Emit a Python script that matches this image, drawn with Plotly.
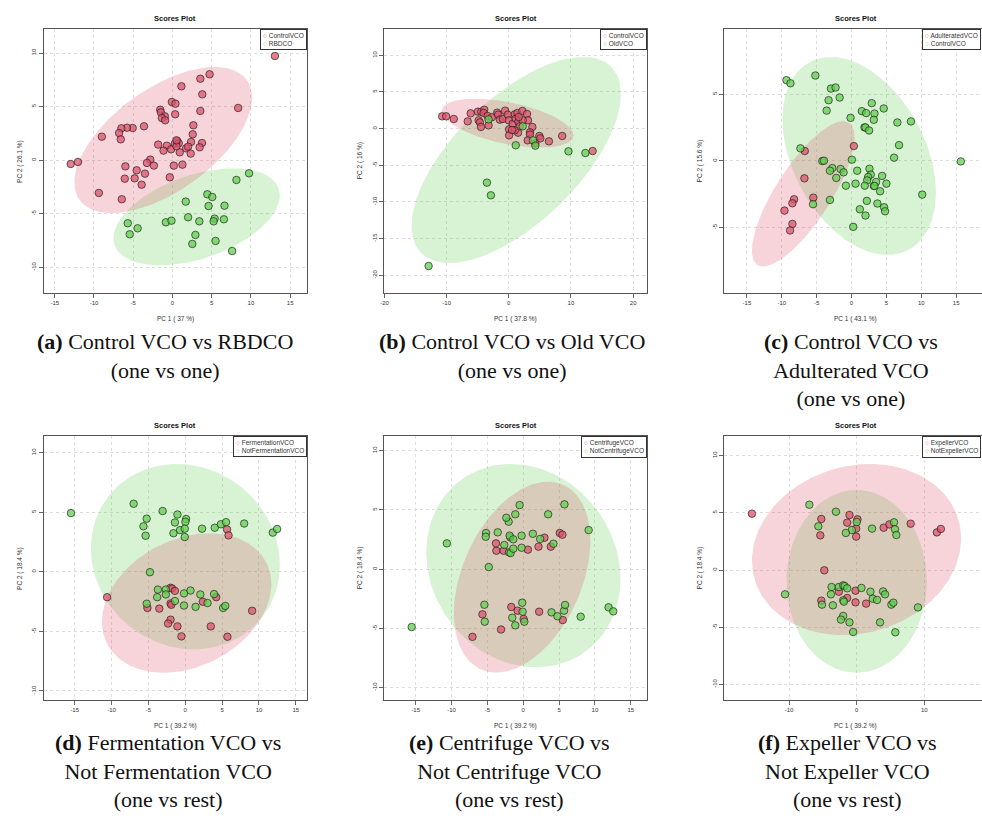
import numpy as np
import plotly.graph_objects as go

W, H = 982, 816

# ---------------- data ----------------
# (a) Control VCO vs RBDCO
a_control_pc1 = [13.05, 4.73, 3.55, 1.14, 3.8, 8.37, -0.08, 0.38, 3.55, -1.56, -1.48, -0.97, -1.35, -0.93, 0.34,
                 2.66, -3.63, -5.07, -5.79, -6.51, -6.8, -9.0, -6.59, 2.58, 2.37, 3.76, 3.46, -1.82, -0.72, -1.14,
                 -0.17, 0.3, 0.63, 0.8, 0.51, 0.93, 1.73, 1.99, 2.32, 0.51, -2.83, -3.25, -2.37, 0.17, 1.27, -6.0,
                 -12.04, -12.97, -4.56, -3.51, -4.82, -6.08, -3.93, -0.34, -9.38, -6.46]
a_control_pc2 = [9.72, 8.01, 7.6, 6.89, 6.14, 4.87, 5.43, 5.27, 4.59, 4.71, 4.46, 4.09, 3.93, 3.72, 4.28, 3.25,
                 3.16, 3.0, 3.03, 2.97, 2.53, 2.19, 1.94, 2.41, 1.70, 1.6, 1.2, 1.45, 1.35, 0.89, 1.01, 1.54, 1.76,
                 1.57, 1.29, 0.73, 1.1, 1.26, 0.61, 1.85, 0.05, -0.26, -0.51, -0.51, -0.42, -0.58, -0.17, -0.36,
                 -0.95, -1.26, -1.7, -1.73, -2.29, -1.6, -3.06, -3.65]
a_rbdco_pc1 = [9.76, 8.15, 4.44, 5.07, 1.69, 4.6, 6.63, 1.99, 3.42, 5.37, 5.24, 6.55, -0.84, -0.13, -5.7, -4.44,
               -5.45, 2.92, 5.49, 2.53, 7.6]
a_rbdco_pc2 = [-1.23, -1.85, -3.19, -3.44, -3.87, -4.28, -4.25, -5.33, -5.71, -5.46, -5.71, -5.52, -5.8, -5.65,
               -5.89, -6.36, -6.92, -6.98, -7.54, -7.82, -8.48]

# (b) Control VCO vs Old VCO
b_control_pc1 = [-10.72, -10.08, -8.85, -6.61, -6.13, -4.96, -4.43, -3.95, -4.05, -4.85, -4.64, -4.48, -3.25,
                 -3.41, -2.72, -1.87, -1.71, -1.44, -0.96, -0.59, -0.16, 0.0, 0.05, 0.05, 0.64, 0.96, 1.12, 1.39,
                 1.55, 1.49, 1.76, 2.19, 2.93, 3.09, 3.79, 3.41, 3.41, 3.04, 4.91, 5.07, 4.27, 6.45, 8.59, 13.49,
                 0.96, 2.24, 0.53, 1.6]
b_control_pc2 = [1.68, 1.68, 1.32, 1.0, 2.09, 2.32, 2.32, 2.59, 2.14, 1.14, 0.86, 0.23, 0.45, 1.73, 1.55, 2.18,
                 1.91, 1.23, 1.32, 2.45, 1.91, 1.14, -0.09, -0.91, 0.68, 1.95, 1.36, 2.14, 0.95, -0.55, 0.32, 2.41,
                 2.0, 1.14, 0.23, -0.5, -0.82, -1.59, -1.0, -1.32, -2.0, -1.73, -1.0, -3.05, -0.23, 1.14, -0.18, 1.59]
b_old_pc1 = [-3.25, 2.24, 1.12, 3.89, 4.27, 9.6, 12.32, -3.52, -2.88, -12.9]
b_old_pc2 = [1.27, 0.32, -2.27, -1.59, -2.32, -3.09, -3.32, -7.36, -9.09, -18.73]

# (c) Control VCO vs Adulterated VCO
c_adult_pc1 = [0.33, -6.71, -6.76, -8.24, -8.48, -9.62, -5.48, -8.48, -8.81]
c_adult_pc2 = [1.11, 0.74, -1.31, -2.88, -3.18, -3.73, -2.76, -4.73, -5.22]
c_control_pc1 = [-9.33, -8.76, -5.19, -2.95, -2.29, -1.71, -3.29, -3.57, -0.14, 1.48, 2.1, 2.9, 3.29, 3.19, 4.62,
                 1.86, 2.0, 2.52, 6.57, 8.52, 6.81, 6.1, 15.67, -7.33, -4.19, -3.95, 0.05, -2.76, -3.1, -1.57,
                 -1.14, -2.19, -0.81, 0.57, 0.81, 2.57, 2.76, 2.38, 2.24, 1.9, 3.19, 3.52, 4.38, 5.0, 4.1, 3.29,
                 -3.1, -5.52, 2.19, 3.71, 1.19, 2.0, 4.67, 4.81, 0.24, 10.14]
c_control_pc2 = [6.05, 5.82, 6.4, 5.42, 5.5, 4.75, 4.55, 3.77, 3.23, 3.73, 3.58, 4.33, 3.55, 3.08, 3.93, 2.51,
                 2.51, 2.28, 2.88, 2.96, 1.18, 0.24, -0.04, 0.94, -0.01, 0.01, 0.09, -0.54, -0.74, -0.61, -0.86,
                 -1.28, -1.86, -1.71, -0.74, -0.59, -1.03, -1.21, -1.46, -1.86, -1.88, -1.58, -1.13, -1.71, -2.28,
                 -1.88, -2.93, -3.25, -3.0, -3.2, -3.63, -4.1, -3.48, -3.78, -4.95, -2.53]

# (d)-(f): one-vs-rest, same samples; production method of each sample
method = ["Expeller", "Centrifuge", "Centrifuge", "Expeller", "Centrifuge", "Expeller", "Expeller", "Expeller",
          "Expeller", "Centrifuge", "Centrifuge", "Centrifuge", "Expeller", "Expeller", "Centrifuge", "Expeller",
          "Expeller", "Centrifuge", "Fermentation", "Fermentation", "Expeller", "Expeller", "Expeller", "Expeller",
          "Fermentation", "Centrifuge", "Centrifuge", "Centrifuge", "Expeller", "Fermentation", "Fermentation",
          "Fermentation", "Fermentation", "Fermentation", "Expeller", "Fermentation", "Expeller", "Fermentation",
          "Expeller", "Expeller", "Centrifuge", "Centrifuge", "Fermentation", "Centrifuge", "Expeller",
          "Centrifuge", "Fermentation", "Centrifuge", "Centrifuge", "Fermentation", "Fermentation",
          "Fermentation", "Fermentation", "Fermentation", "Fermentation", "Fermentation"]
# scores as drawn in (d) and (f)
df_pc1 = [-15.5, -7.0, -3.07, -5.23, -5.67, -5.38, -1.06, -1.4, 0.12, 0.02, -0.71, -1.6, -0.07, -0.07, 2.28, 4.0,
          4.84, 5.53, 5.67, 5.87, 7.99, 11.87, 12.46, -4.79, -10.6, -3.71, -3.81, -2.63, -2.63, -1.99, -1.79, -1.4,
          -1.99, -1.89, -1.4, -5.13, -5.23, -3.52, -0.17, -0.17, 0.71, 2.04, 2.38, 3.02, 1.4, 3.91, 4.2, 5.14, 5.43,
          9.07, -1.99, -2.33, -1.06, -0.52, 3.46, 5.72]
df_pc2 = [4.93, 5.71, 5.1, 4.46, 3.82, 3.03, 4.81, 4.14, 4.43, 4.2, 3.5, 3.24, 3.62, 2.92, 3.62, 3.7, 3.99, 4.17,
          3.56, 3.06, 4.05, 3.29, 3.59, -0.03, -2.13, -1.49, -2.13, -1.49, -1.9, -1.34, -1.4, -1.6, -2.65, -2.77,
          -2.45, -3.03, -2.68, -3.09, -1.81, -2.83, -1.57, -1.9, -2.51, -2.62, -2.94, -1.87, -2.13, -3.03, -2.86,
          -3.27, -4.02, -4.34, -4.58, -5.42, -4.58, -5.45]
# scores as drawn in (e)
e_pc1 = [-15.56, -7.08, -3.1, -5.37, -5.69, -5.42, -1.11, -1.53, 0.15, 0.05, -0.79, -1.67, -0.09, -0.14, 2.22, 3.94,
         4.77, 5.51, 5.69, 5.83, 8.01, 11.9, 12.55, -4.81, -10.65, -3.75, -3.8, -2.73, -2.64, -1.99, -1.76, -1.39,
         -1.81, -1.9, -1.39, -5.19, -5.23, -3.56, -0.23, -0.23, 0.65, 2.13, 2.36, 2.96, 1.34, 3.84, 4.21, 5.09, 5.46,
         9.12, -2.04, -2.36, -1.11, -0.51, 3.47, 5.74]
e_pc2 = [-4.88, -5.71, -5.09, -4.43, -3.81, -3.0, -4.74, -4.09, -4.43, -4.2, -3.5, -3.19, -3.59, -2.83, -3.59,
         -3.64, -3.97, -4.29, -3.5, -3.02, -4.01, -3.22, -3.56, 0.18, 2.18, 1.56, 2.18, 1.56, 2.04, 1.42, 1.36, 1.73,
         2.69, 2.83, 2.52, 3.05, 2.74, 3.11, 1.81, 2.83, 1.65, 1.9, 2.55, 2.66, 2.99, 1.9, 2.15, 3.05, 2.91, 3.3,
         4.01, 4.34, 4.63, 5.41, 4.63, 5.47]

# 95% confidence ellipses: centre, half-width, half-height, correlation  [red group, green group]
ellipses = {
    "a": [(-1.18, 1.88, 11.32, 6.81, 0.58), (3.08, -5.29, 10.6, 4.53, 0.44)],
    "b": [(-0.18, 0.75, 10.59, 3.34, -0.5), (1.2, -4.27, 16.83, 14.05, 0.64)],
    "c": [(-6.93, -2.47, 7.36, 5.45, 0.78), (1.1, 0.37, 11.0, 7.42, -0.37)],
    "d": [(0.18, -2.62, 11.49, 5.85, 0.27), (0.02, 1.27, 12.82, 7.78, -0.09)],
    "e": [(-0.16, -0.67, 9.52, 8.06, 0.38), (0.02, 0.3, 13.54, 8.58, -0.13)],
    "f": [(-0.02, 1.79, 15.48, 7.48, 0.13), (0.0, -0.99, 10.39, 7.99, 0.0)],
}

group_names = {
    "a": ("ControlVCO", "RBDCO"), "b": ("ControlVCO", "OldVCO"), "c": ("AdulteratedVCO", "ControlVCO"),
    "d": ("FermentationVCO", "NotFermentationVCO"), "e": ("CentrifugeVCO", "NotCentrifugeVCO"),
    "f": ("ExpellerVCO", "NotExpellerVCO"),
}
pc_labels = {
    "a": ("PC 1 ( 37 %)", "PC 2 ( 26.1 %)"), "b": ("PC 1 ( 37.8 %)", "PC 2 ( 16 %)"),
    "c": ("PC 1 ( 43.1 %)", "PC 2 ( 15.6 %)"), "d": ("PC 1 ( 39.2 %)", "PC 2 ( 18.4 %)"),
    "e": ("PC 1 ( 39.2 %)", "PC 2 ( 18.4 %)"), "f": ("PC 1 ( 39.2 %)", "PC 2 ( 18.4 %)"),
}
x_ticks = {"a": [-15, -10, -5, 0, 5, 10, 15], "b": [-20, -10, 0, 10, 20], "c": [-15, -10, -5, 0, 5, 10, 15],
           "d": [-15, -10, -5, 0, 5, 10, 15], "e": [-15, -10, -5, 0, 5, 10, 15], "f": [-10, 0, 10]}
y_ticks = {"a": [-10, -5, 0, 5, 10], "b": [-20, -15, -10, -5, 0, 5, 10], "c": [-5, 0, 5],
           "d": [-10, -5, 0, 5, 10], "e": [-10, -5, 0, 5, 10], "f": [-10, -5, 0, 5, 10]}
captions = {
    "a": "<b>(a)</b> Control VCO vs RBDCO<br>(one vs one)",
    "b": "<b>(b)</b> Control VCO vs Old VCO<br>(one vs one)",
    "c": "<b>(c)</b> Control VCO vs<br>Adulterated VCO<br>(one vs one)",
    "d": "<b>(d)</b> Fermentation VCO vs<br>Not Fermentation VCO<br>(one vs rest)",
    "e": "<b>(e)</b> Centrifuge VCO vs<br>Not Centrifuge VCO<br>(one vs rest)",
    "f": "<b>(f)</b> Expeller VCO vs<br>Not Expeller VCO<br>(one vs rest)",
}


def split(xs, ys, mask):
    return ([x for x, m in zip(xs, mask) if m], [y for y, m in zip(ys, mask) if m],
            [x for x, m in zip(xs, mask) if not m], [y for y, m in zip(ys, mask) if not m])


points = {
    "a": (a_control_pc1, a_control_pc2, a_rbdco_pc1, a_rbdco_pc2),
    "b": (b_control_pc1, b_control_pc2, b_old_pc1, b_old_pc2),
    "c": (c_adult_pc1, c_adult_pc2, c_control_pc1, c_control_pc2),
    "d": split(df_pc1, df_pc2, [m == "Fermentation" for m in method]),
    "e": split(e_pc1, e_pc2, [m == "Centrifuge" for m in method]),
    "f": split(df_pc1, df_pc2, [m == "Expeller" for m in method]),
}

# ---------------- layout geometry (pixels) ----------------
layout_px = {  # box x0, x1, y0, y1 ; x range ; y range ; caption centre x, centre y
    "a": ((40, 304, 29, 293), (-16.39, 17.11), (-12.4, 12.24), (162, 356)),
    "b": ((381.7, 646, 29, 293), (-20.05, 22.29), (-22.41, 13.59), (510, 356)),
    "c": ((723.3, 982, 29, 293), (-18.24, 18.71), (-9.91, 9.89), (850, 370)),
    "d": ((40, 304, 436, 700), (-19.18, 16.48), (-10.76, 11.4), (165, 771)),
    "e": ((381.7, 646, 436, 700), (-19.4, 17.31), (-11.04, 11.24), (508, 771)),
    "f": ((723.3, 982, 436, 700), (-19.58, 18.55), (-11.37, 11.72), (847, 771)),
}

RED = (223, 83, 107)
GREEN = (97, 208, 79)


def rgba(c, a):
    return f"rgba({c[0]},{c[1]},{c[2]},{a})"


def ellipse_xy(cx, cy, hw, hh, r, n=240):
    t = np.linspace(0, 2 * np.pi, n)
    x = cx + hw * np.cos(t)
    y = cy + hh * (r * np.cos(t) + np.sqrt(1 - r * r) * np.sin(t))
    return x, y


fig = go.Figure()
annotations = []
TXT = "Liberation Sans"

for i, key in enumerate(["a", "b", "c", "d", "e", "f"], start=1):
    (x0, x1, y0, y1), xr, yr, (capx, capy) = layout_px[key]
    xa, ya = ("x" if i == 1 else f"x{i}"), ("y" if i == 1 else f"y{i}")
    xname, yname = ("xaxis" if i == 1 else f"xaxis{i}"), ("yaxis" if i == 1 else f"yaxis{i}")
    right_cut = x1 >= W

    # ellipses (green first, red over it)
    for (ell, col) in [(ellipses[key][1], GREEN), (ellipses[key][0], RED)]:
        ex, ey = ellipse_xy(*ell)
        fig.add_trace(go.Scatter(x=ex, y=ey, xaxis=xa, yaxis=ya, mode="lines", fill="toself",
                                 fillcolor=rgba(col, 0.25), line=dict(width=0), hoverinfo="skip",
                                 showlegend=False))
    rx, ry, gx, gy = points[key]
    for (px_, py_, col, nm) in [(rx, ry, RED, group_names[key][0]), (gx, gy, GREEN, group_names[key][1])]:
        fig.add_trace(go.Scatter(x=px_, y=py_, xaxis=xa, yaxis=ya, mode="markers", name=nm,
                                 marker=dict(size=7.5, color=rgba(col, 0.75),
                                             line=dict(color="rgba(30,30,30,0.85)", width=0.8)),
                                 showlegend=False))

    common = dict(showline=True, linecolor="#555555", linewidth=1, ticks="outside", ticklen=4,
                  tickcolor="#666666", tickwidth=0.8, showgrid=True, gridcolor="#dddddd", griddash="dot",
                  gridwidth=1, zeroline=False, tickfont=dict(family=TXT, size=6, color="#333333"))
    fig.layout[xname] = dict(domain=[x0 / W, min(x1 / W, 1.0)], range=list(xr), anchor=ya, mirror=True,
                             tickmode="array", tickvals=x_ticks[key], ticktext=[str(v) for v in x_ticks[key]],
                             **common)
    fig.layout[yname] = dict(domain=[1 - y1 / H, 1 - y0 / H], range=list(yr), anchor=xa,
                             mirror=not right_cut, tickangle=-90,
                             tickmode="array", tickvals=y_ticks[key], ticktext=[str(v) for v in y_ticks[key]],
                             **common)

    cx_box = (x0 + (x0 + 264)) / 2
    # panel title
    annotations.append(dict(text="<b>Scores Plot</b>", x=cx_box / W, y=1 - (y0 - 11) / H, xref="paper",
                            yref="paper", showarrow=False, xanchor="center", yanchor="middle",
                            font=dict(family=TXT, size=7.5, color="#111111")))
    # axis titles
    annotations.append(dict(text=pc_labels[key][0], x=cx_box / W, y=1 - (y1 + 26) / H, xref="paper",
                            yref="paper", showarrow=False, xanchor="center", yanchor="middle",
                            font=dict(family=TXT, size=6.5, color="#333333")))
    annotations.append(dict(text=pc_labels[key][1], x=(x0 - 24) / W, y=1 - ((y0 + y1) / 2) / H, xref="paper",
                            yref="paper", showarrow=False, xanchor="center", yanchor="middle", textangle=-90,
                            font=dict(family=TXT, size=6.5, color="#333333")))
    # legend box
    leg_text = (f"<span style='color:{rgba(RED, 1)}'>○</span> {group_names[key][0]}<br>"
                f"<span style='color:{rgba(GREEN, 1)}'>○</span> {group_names[key][1]}")
    leg = dict(text=leg_text, showarrow=False, align="left", yref="paper", y=1 - y0 / H, yanchor="top",
               bordercolor="#333333", borderwidth=1, borderpad=2, bgcolor="white",
               font=dict(family=TXT, size=6.5, color="#333333"))
    leg.update(xref="paper", x=min(x1, W - 1) / W, xanchor="right")
    annotations.append(leg)
    # caption
    annotations.append(dict(text=captions[key], x=capx / W, y=1 - capy / H, xref="paper", yref="paper",
                            showarrow=False, xanchor="center", yanchor="middle", align="center",
                            font=dict(family="Liberation Serif", size=22, color="#111111")))

fig.update_layout(width=W, height=H, margin=dict(l=0, r=0, t=0, b=0), paper_bgcolor="white",
                  plot_bgcolor="white", showlegend=False, annotations=annotations)

fig.write_html("out.html", config={"displayModeBar": False},
               post_script="document.body.style.margin='0px';")
